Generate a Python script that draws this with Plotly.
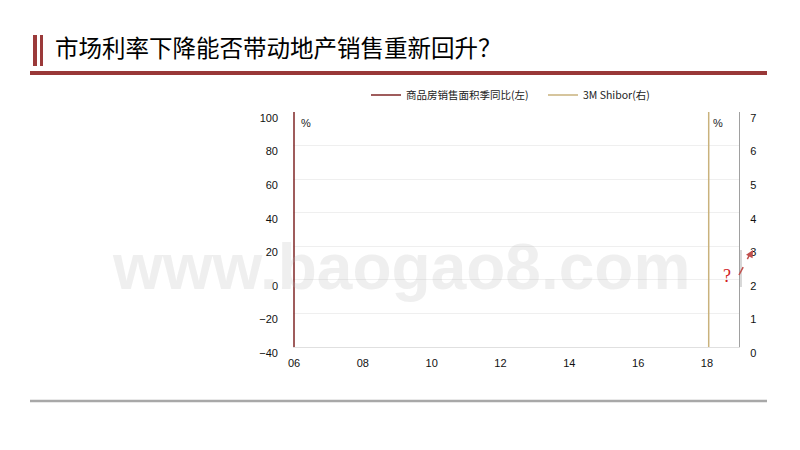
import plotly.graph_objects as go

# ---- data ----
x_tickvals = [6, 8, 10, 12, 14, 16, 18]
x_ticktext = ["06", "08", "10", "12", "14", "16", "18"]
sales_x = [6, 6]            # 商品房销售面积季同比 (collapsed at 06)
sales_y = [-40, 100]
shibor_x = [18.05, 18.05]   # 3M Shibor (collapsed at 18)
shibor_y = [0, 7]
left_ticks = [-40, -20, 0, 20, 40, 60, 80, 100]
right_ticks = [0, 1, 2, 3, 4, 5, 6, 7]

W, H = 800, 450
OFF = 8  # page body margin in the browser
PLOT_L, PLOT_R, PLOT_T, PLOT_B = 293, 739, 112, 347   # target pixel positions
L = PLOT_L - OFF
R = W - (PLOT_R - OFF)
T = PLOT_T - OFF
B = H - (PLOT_B - OFF)
PW, PH = PLOT_R - PLOT_L, PLOT_B - PLOT_T

def px(x):
    return (x - PLOT_L) / PW

def py(y):
    return (PLOT_B - y) / PH

RED = "#7f2626"
TAN = "#c9b27c"
UNIT = 68.83 / 2  # pixels per year

fig = go.Figure()
fig.add_trace(go.Scatter(x=sales_x, y=sales_y, mode="lines", name="商品房销售面积季同比(左)",
                         line=dict(color=RED, width=1.5)))
fig.add_trace(go.Scatter(x=shibor_x, y=shibor_y, mode="lines", name="3M Shibor(右)",
                         yaxis="y2", line=dict(color=TAN, width=1.5)))

tickfont = dict(family="Liberation Sans, Arial", size=11, color="#111")
x0 = 6 - 1.0 / UNIT
fig.update_layout(
    width=W, height=H, margin=dict(l=L, r=R, t=T, b=B),
    paper_bgcolor="white", plot_bgcolor="white",
    font=dict(family="Noto Sans CJK SC"),
    xaxis=dict(range=[x0, x0 + PW / UNIT], tickvals=x_tickvals, ticktext=x_ticktext,
               showgrid=False, zeroline=False, showline=True, linecolor="#e0e0e0",
               linewidth=1, ticks="", tickfont=tickfont, ticklabelstandoff=6),
    yaxis=dict(range=[-40, 100], tickvals=left_ticks, showgrid=True, gridcolor="#efefef",
               zeroline=False, showline=False, ticks="", tickfont=tickfont,
               ticklabelshift=6, ticklabelstandoff=14),
    yaxis2=dict(range=[0, 7], tickvals=right_ticks, overlaying="y", side="right",
                showgrid=False, zeroline=False, showline=True, linecolor="#a0a0a0",
                linewidth=1.2, ticks="", tickfont=tickfont, ticklabelshift=6,
                ticklabelstandoff=8),
    legend=dict(orientation="h", x=px(366), y=py(95), xanchor="left", yanchor="middle",
                font=dict(size=10.5, color="#222", family="Noto Sans CJK SC"),
                entrywidth=132, itemwidth=30, bgcolor="rgba(0,0,0,0)"),
    showlegend=True,
)

shapes = [
    # header decorations
    dict(type="rect", xref="paper", yref="paper", x0=px(33), x1=px(37), y0=py(35), y1=py(66),
         fillcolor="#9b3a3a", line=dict(width=0)),
    dict(type="rect", xref="paper", yref="paper", x0=px(40), x1=px(43), y0=py(35), y1=py(66),
         fillcolor="#9b3a3a", line=dict(width=0)),
    dict(type="rect", xref="paper", yref="paper", x0=px(30), x1=px(767), y0=py(71), y1=py(75),
         fillcolor="#993838", line=dict(width=0)),
    dict(type="line", xref="paper", yref="paper", x0=px(30), x1=px(767), y0=py(401), y1=py(401),
         line=dict(color="#a8a8a8", width=2.5)),
    # small gray segment near right axis
    dict(type="line", xref="paper", yref="paper", x0=px(741), x1=px(741), y0=py(250), y1=py(287),
         line=dict(color="#d8d8d8", width=2)),
    # dashed arrow body
    dict(type="line", xref="paper", yref="paper", x0=px(739), x1=px(750), y0=py(275), y1=py(254),
         line=dict(color="#c0504d", width=1.5, dash="dash")),
]
fig.update_layout(shapes=shapes)

annotations = [
    dict(text="市场利率下降能否带动地产销售重新回升？", xref="paper", yref="paper",
         x=px(53), y=py(47), xanchor="left", yanchor="middle", showarrow=False,
         font=dict(size=23.5, color="#000", family="Noto Sans CJK SC")),
    dict(text="www.baogao8.com", xref="paper", yref="paper", x=px(401), y=py(267),
         xanchor="center", yanchor="middle", showarrow=False,
         font=dict(size=64, color="rgba(180,180,180,0.22)", family="Liberation Sans, Arial",
                   weight="bold")),
    dict(text="%", xref="paper", yref="paper", x=px(306), y=py(123), showarrow=False,
         xanchor="center", yanchor="middle",
         font=dict(size=11, color="#222", family="Liberation Sans")),
    dict(text="%", xref="paper", yref="paper", x=px(718), y=py(123), showarrow=False,
         xanchor="center", yanchor="middle",
         font=dict(size=11, color="#222", family="Liberation Sans")),
    dict(text="?", xref="paper", yref="paper", x=px(727), y=py(276), showarrow=False,
         xanchor="center", yanchor="middle",
         font=dict(size=18, color="#d02020", family="Liberation Serif")),
    dict(text="", xref="paper", yref="paper", x=px(753), y=py(250), ax=-4, ay=7,
         showarrow=True, arrowhead=2, arrowsize=1, arrowwidth=1.5, arrowcolor="#c0504d"),
]
fig.update_layout(annotations=annotations)

fig.write_html("out.html")
